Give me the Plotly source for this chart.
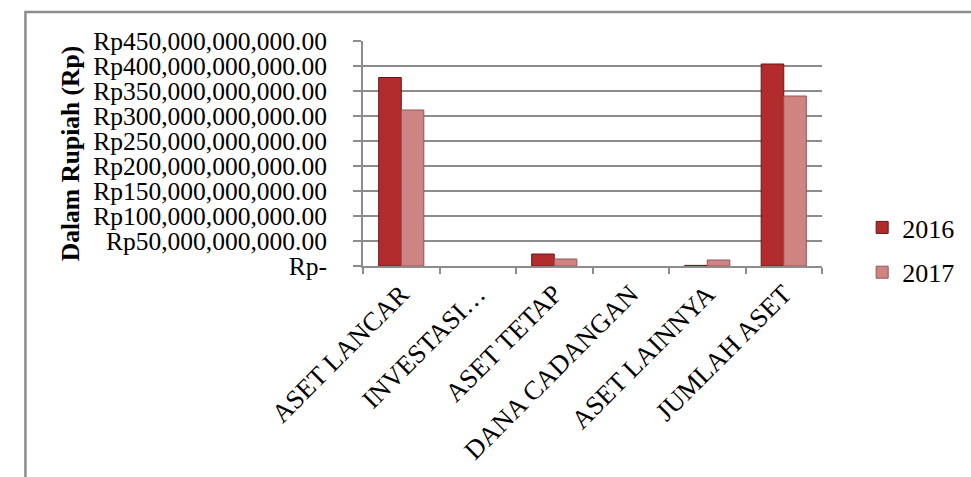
import plotly.graph_objects as go

categories = ["ASET LANCAR", "INVESTASI…", "ASET TETAP", "DANA CADANGAN", "ASET LAINNYA", "JUMLAH ASET"]
values_2016 = [377e9, 0, 24e9, 0, 1.2e9, 404e9]
values_2017 = [312e9, 0, 14e9, 0, 12e9, 340e9]
tick_vals = [0, 50e9, 100e9, 150e9, 200e9, 250e9, 300e9, 350e9, 400e9, 450e9]
tick_text = ["Rp-", "Rp50,000,000,000.00", "Rp100,000,000,000.00", "Rp150,000,000,000.00",
             "Rp200,000,000,000.00", "Rp250,000,000,000.00", "Rp300,000,000,000.00",
             "Rp350,000,000,000.00", "Rp400,000,000,000.00", "Rp450,000,000,000.00"]

FONT = "Liberation Serif, Times New Roman, serif"

def edge_widths(vals):
    return [1 if v > 0 else 0 for v in vals]

fig = go.Figure()
fig.add_trace(go.Bar(name="2016", x=categories, y=values_2016, legendgroup="a",
                     marker=dict(color="#B22C2E", line=dict(color="#6A1517", width=edge_widths(values_2016)))))
fig.add_trace(go.Bar(name="2017", x=categories, y=values_2017, legendgroup="b",
                     marker=dict(color="#CF8484", line=dict(color="#955454", width=edge_widths(values_2017)))))

W, H = 971, 477
L, R, T, B = 363, 843, 41, 266
pw, ph = R - L, B - T

def px(x):
    return (x - L) / pw

def py(y):
    return (B - y) / ph

fig.update_layout(
    width=W, height=H,
    margin=dict(l=L, r=W - R, t=T, b=H - B, pad=0),
    paper_bgcolor="white", plot_bgcolor="white",
    barmode="group", bargap=0.41, bargroupgap=0,
    font=dict(family=FONT, color="black", size=26),
    showlegend=True,
    legend=dict(x=px(885), y=py(204), xanchor="left", yanchor="top",
                font=dict(size=26, family=FONT), tracegroupgap=8,
                itemwidth=30, bgcolor="rgba(0,0,0,0)"),
    xaxis=dict(showgrid=False, showline=True, linecolor="#8C8C8C", linewidth=2,
               ticks="outside", tickson="boundaries", ticklen=6, tickcolor="#8C8C8C",
               tickwidth=2, tickangle=-45, tickfont=dict(size=26.5, family=FONT)),
    yaxis=dict(range=[0, 450e9], tickvals=tick_vals, ticktext=tick_text,
               showgrid=True, gridcolor="#8C8C8C", gridwidth=2,
               showline=True, linecolor="#8C8C8C", linewidth=2,
               ticks="outside", ticklen=8, tickcolor="#8C8C8C", tickwidth=2,
               ticklabelstandoff=21,
               tickfont=dict(size=25.5, family=FONT), zeroline=False,
               title=dict(text="<b>Dalam Rupiah (Rp)</b>", font=dict(size=25.5, family=FONT), standoff=6)),
)

fig.add_shape(type="rect", xref="paper", yref="paper",
              x0=px(10), x1=px(1100), y0=py(600), y1=py(12),
              line=dict(color="#8C8C8C", width=2.5), fillcolor="rgba(0,0,0,0)", layer="below")

fig.write_html("out.html")
